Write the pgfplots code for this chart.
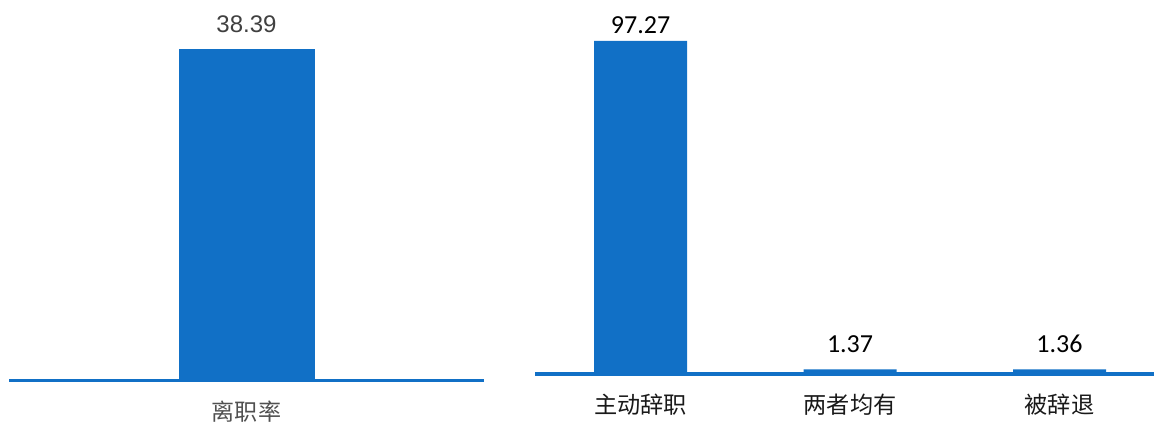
\documentclass[border=0pt]{standalone}
\usepackage{pgfplots}
\pgfplotsset{compat=1.18}
\usepackage{pgfplotstable}
\usepackage{fontspec}
\setmainfont{Liberation Sans}
\newfontfamily\cjk{Noto Sans CJK SC}
\newfontfamily\carlito{Carlito}
\definecolor{barblue}{RGB}{17,112,198}
\definecolor{txtgray}{RGB}{64,64,64}
\definecolor{catgray}{RGB}{80,80,80}

\pgfplotstableread{
x y off
0 38.39 18.2
}\leftdata

\pgfplotstableread{
x y off
0 97.27 12
1 1.37 19
2 1.36 19
}\rightdata

\begin{document}
\begin{tikzpicture}
\useasboundingbox (0,0) rectangle (865.5pt,316.5pt);

% left panel
\begin{axis}[
  at={(6.75pt,31.5pt)}, anchor=south west,
  scale only axis, width=356.25pt, height=248.25pt,
  xmin=-1, xmax=1, ymin=0, ymax=38.39,
  enlargelimits=false, clip=false,
  ybar, bar width=102pt,
  axis x line=bottom, axis y line=none,
  x axis line style={-, draw=barblue, line width=2.25pt},
  xtick={0}, xticklabels={离职率},
  major tick length=0pt,
  xticklabel style={anchor=center, yshift=-23.8pt, font=\cjk\fontsize{17.3pt}{20pt}\selectfont, text=catgray},
  ytick=\empty,
  /pgf/number format/assume math mode=true,
  /pgf/number format/fixed, /pgf/number format/precision=2,
]
\addplot[fill=barblue, draw=none,
  nodes near coords,
  visualization depends on={\thisrow{off} \as \off},
  nodes near coords style={anchor=center, yshift=\off pt, font=\fontsize{18pt}{21pt}\selectfont, text=txtgray}]
  table[x=x, y=y]{\leftdata};
\end{axis}

% right panel
\begin{axis}[
  at={(401.25pt,36pt)}, anchor=south west,
  scale only axis, width=464.25pt, height=249.75pt,
  xmin=-0.504, xmax=2.451, ymin=0, ymax=97.27,
  enlargelimits=false, clip=false,
  ybar, bar width=69.75pt,
  axis x line=bottom, axis y line=none,
  x axis line style={-, draw=barblue, line width=2.5pt},
  xtick={0,1,2}, xticklabels={主动辞职,两者均有,被辞退},
  major tick length=0pt,
  xticklabel style={anchor=center, yshift=-23.25pt, font=\cjk\fontsize{17.4pt}{20pt}\selectfont, text=black!90},
  ytick=\empty,
  /pgf/number format/assume math mode=true,
  /pgf/number format/fixed, /pgf/number format/precision=2,
]
\addplot[fill=barblue, draw=none,
  nodes near coords,
  visualization depends on={\thisrow{off} \as \off},
  nodes near coords style={anchor=center, yshift=\off pt, font=\carlito\fontsize{19.5pt}{22pt}\selectfont, text=black}]
  table[x=x, y=y]{\rightdata};
\end{axis}
\end{tikzpicture}
\end{document}
